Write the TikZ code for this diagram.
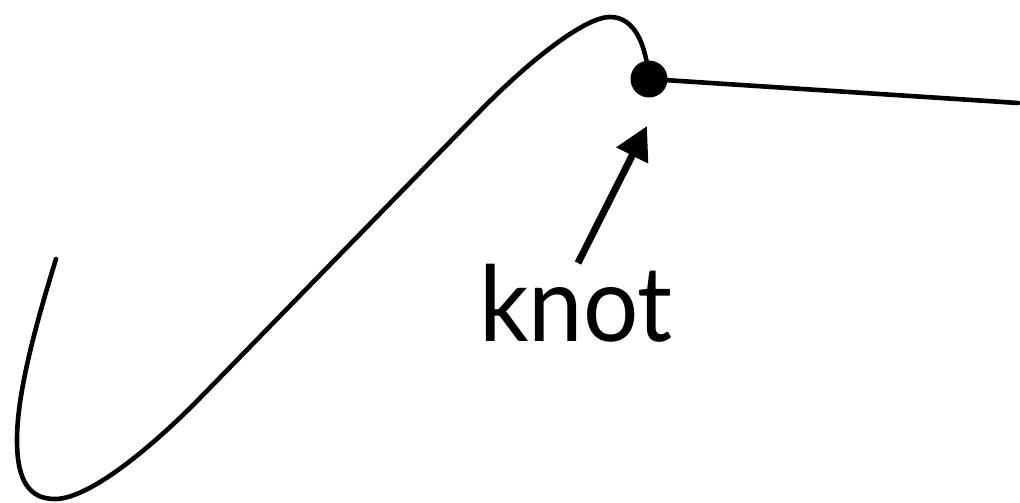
\documentclass[tikz,border=0pt]{standalone}
\usepackage{fontspec}
\setmainfont{Lato}
\usetikzlibrary{arrows.meta}
\tikzset{
  curveline/.style={line width=4.6pt, line cap=round, line join=round},
  knotdot/.style={circle, fill=black, minimum size=37pt, inner sep=0pt},
  pointer/.style={line width=7pt, -{Triangle[length=33pt,width=34pt]}},
  bigtext/.style={font=\fontsize{105}{110}\selectfont, inner sep=0pt, anchor=base}
}
\begin{document}
\begin{tikzpicture}[x=1pt,y=-1pt]
\useasboundingbox (0,0) rectangle (1020,503);
\coordinate (start) at (56,259);
\coordinate (rend) at (1018,103);
\node[knotdot] (knot) at (649,79) {};
\draw[curveline] (start) .. controls (34,330) and (17,395) .. (17,440)
  .. controls (17,482) and (30,499) .. (55,499)
  .. controls (92,499) and (160,439) .. (200,398)
  -- (480,111)
  .. controls (530,60) and (585,17) .. (610,17)
  .. controls (635,17) and (646,45) .. (knot.center);
\draw[curveline] (knot.center) -- (rend);
\node[bigtext] (label) at (576,341) {\scalebox{0.93}[1]{knot}};
\coordinate (atail) at (578,263);
\coordinate (ahead) at (647,126);
\draw[pointer] (atail) -- (ahead);
\end{tikzpicture}
\end{document}
